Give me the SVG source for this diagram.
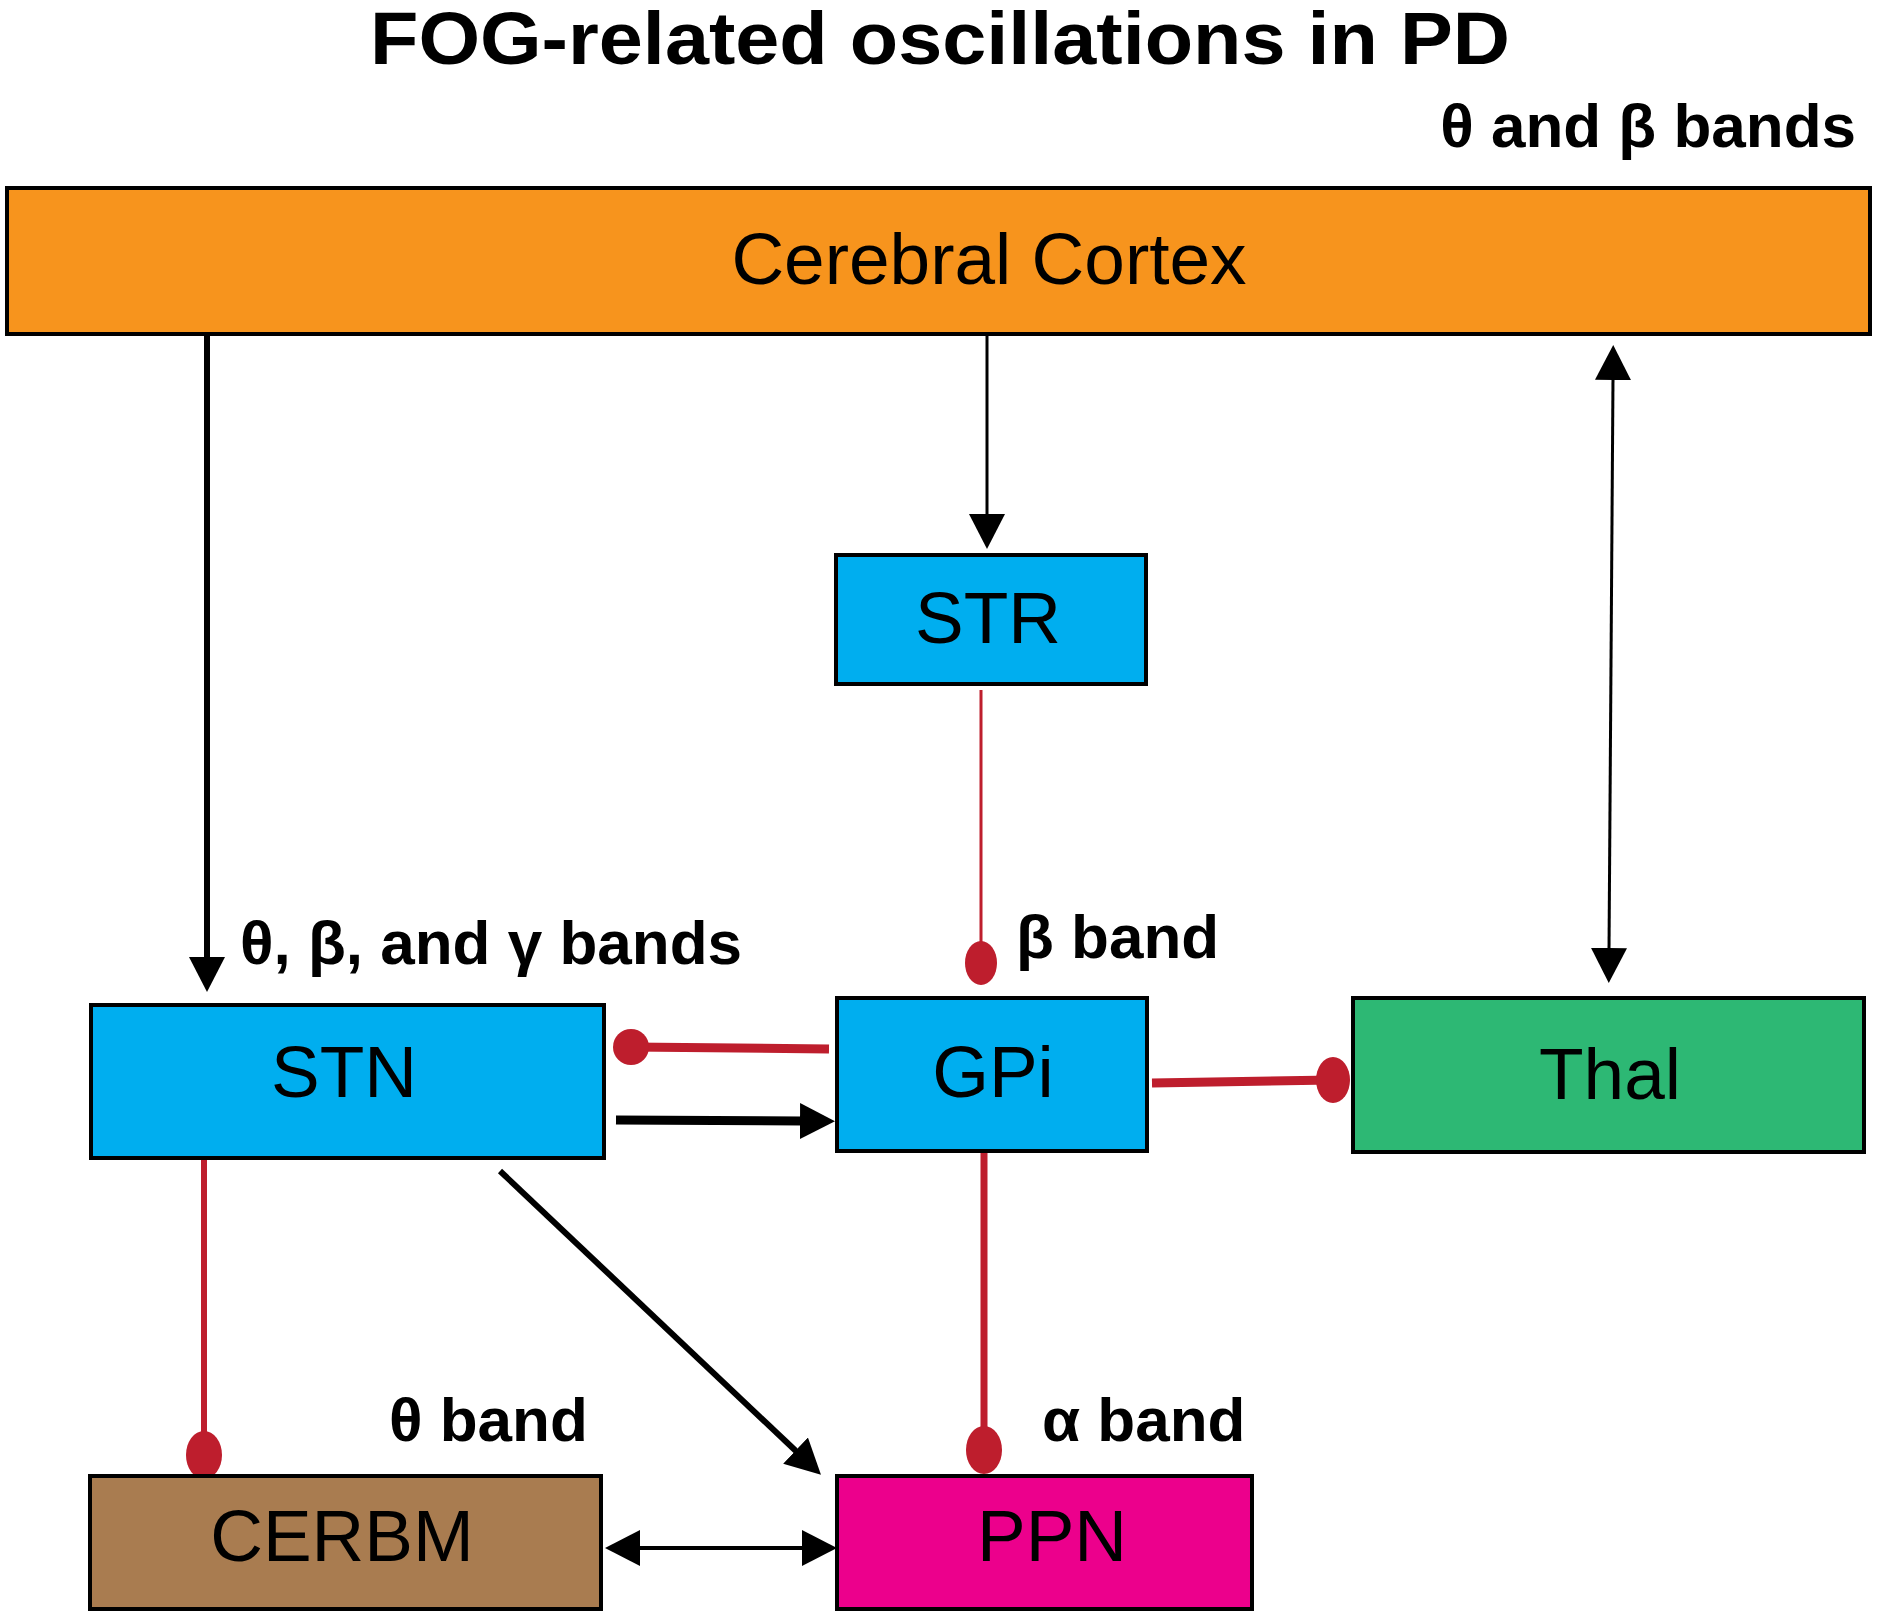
<svg xmlns="http://www.w3.org/2000/svg" width="1878" height="1619" viewBox="0 0 1878 1619">
<style>
.box{stroke:#000;stroke-width:4}
.lbl{font-family:"Liberation Sans",Arial,sans-serif;font-size:73px;fill:#000;text-anchor:middle}
.band{font-family:"Liberation Sans",Arial,sans-serif;font-size:62px;font-weight:bold;fill:#000}
.ex{stroke:#000;fill:none}
.in{stroke:#BE1E2D;fill:none}
.dot{fill:#BE1E2D}
</style>
<defs>
<marker id="ah" markerUnits="userSpaceOnUse" markerWidth="40" markerHeight="40" viewBox="0 -20 40 40" refX="2" refY="0" orient="auto-start-reverse">
<path d="M0,-18 L35,0 L0,18 Z" fill="#000"/>
</marker>
</defs>
<rect width="1878" height="1619" fill="#fff"/>
<text x="940" y="64" font-family="'Liberation Sans',Arial,sans-serif" font-size="74" font-weight="bold" text-anchor="middle" textLength="1140" lengthAdjust="spacingAndGlyphs">FOG-related oscillations in PD</text>
<text class="band" x="1856" y="147" text-anchor="end">θ and β bands</text>
<text class="band" x="240" y="964">θ, β, and γ bands</text>
<text class="band" x="1016" y="958">β band</text>
<text class="band" x="389" y="1441">θ band</text>
<text class="band" x="1042" y="1441">α band</text>

<g id="connectors">
<line class="ex" x1="207" y1="334" x2="207" y2="959" stroke-width="6" marker-end="url(#ah)"/>
<line class="ex" x1="987" y1="334" x2="987" y2="516" stroke-width="3" marker-end="url(#ah)"/>
<line class="ex" x1="1613" y1="378" x2="1609" y2="950" stroke-width="3" marker-start="url(#ah)" marker-end="url(#ah)"/>
<line class="ex" x1="616" y1="1120" x2="802" y2="1121" stroke-width="9" marker-end="url(#ah)"/>
<line class="ex" x1="500" y1="1171" x2="797" y2="1452" stroke-width="6" marker-end="url(#ah)"/>
<line class="ex" x1="638" y1="1548" x2="804" y2="1548" stroke-width="4" marker-start="url(#ah)" marker-end="url(#ah)"/>

<line class="in" x1="981" y1="690" x2="981" y2="962" stroke-width="3"/>
<ellipse class="dot" cx="981" cy="963" rx="16" ry="22"/>
<line class="in" x1="829" y1="1049" x2="631" y2="1047" stroke-width="9"/>
<ellipse class="dot" cx="631" cy="1047" rx="18" ry="18"/>
<line class="in" x1="1152" y1="1083" x2="1333" y2="1080" stroke-width="9"/>
<ellipse class="dot" cx="1333" cy="1080" rx="17" ry="23"/>
<line class="in" x1="984" y1="1151" x2="984" y2="1450" stroke-width="7"/>
<ellipse class="dot" cx="984" cy="1450" rx="18" ry="24"/>
<line class="in" x1="204" y1="1158" x2="204" y2="1455" stroke-width="6"/>
<ellipse class="dot" cx="204" cy="1455" rx="18" ry="24"/>
</g>

<g id="cortex">
<rect class="box" x="7" y="188" width="1863" height="146" fill="#F7941D"/>
<text class="lbl" x="989" y="284" font-size="75">Cerebral Cortex</text>
</g>
<g id="str">
<rect class="box" x="836" y="555" width="310" height="129" fill="#00AEEF"/>
<text class="lbl" x="988" y="643">STR</text>
</g>
<g id="stn">
<rect class="box" x="91" y="1005" width="513" height="153" fill="#00AEEF"/>
<text class="lbl" x="344" y="1097">STN</text>
</g>
<g id="gpi">
<rect class="box" x="837" y="998" width="310" height="153" fill="#00AEEF"/>
<text class="lbl" x="993" y="1097">GPi</text>
</g>
<g id="thal">
<rect class="box" x="1353" y="998" width="511" height="154" fill="#2DB874"/>
<text class="lbl" x="1610" y="1099">Thal</text>
</g>
<g id="cerbm">
<rect class="box" x="90" y="1476" width="511" height="133" fill="#A97C50"/>
<text class="lbl" x="342" y="1561">CERBM</text>
</g>
<g id="ppn">
<rect class="box" x="837" y="1476" width="415" height="133" fill="#EC008C"/>
<text class="lbl" x="1052" y="1561">PPN</text>
</g>
</svg>
